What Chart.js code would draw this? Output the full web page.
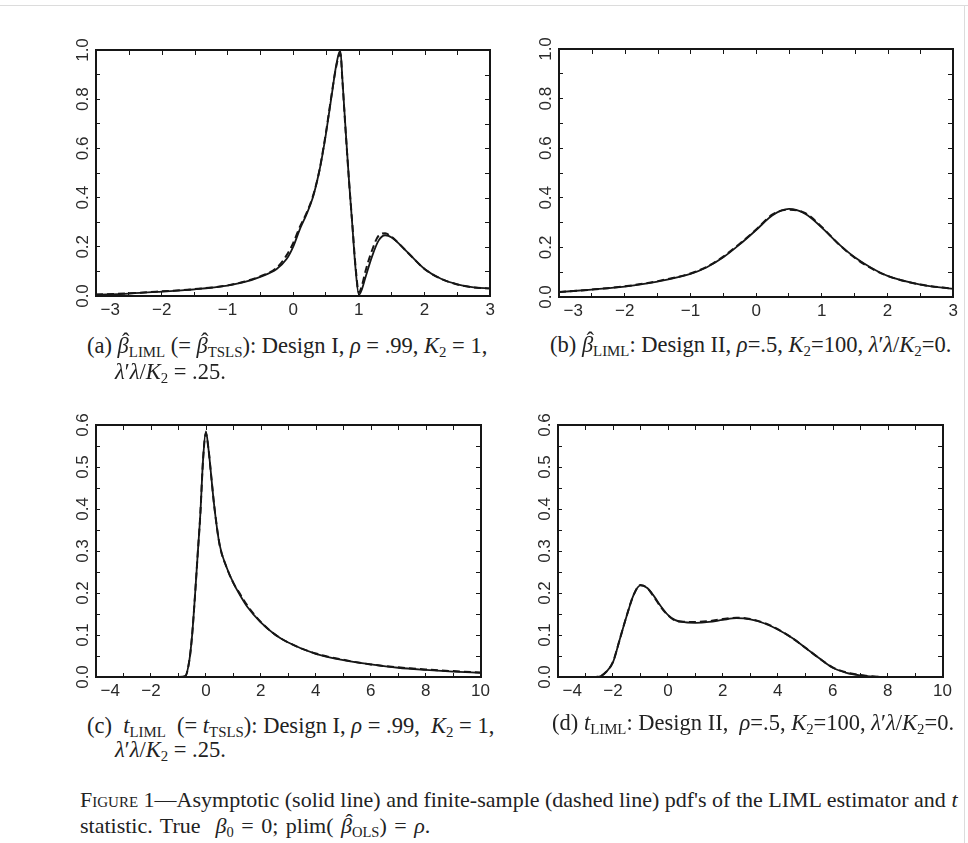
<!DOCTYPE html>
<html>
<head>
<meta charset="utf-8">
<script src="https://cdn.jsdelivr.net/npm/chart.js@4.4.1/dist/chart.umd.min.js"></script>
<style>
  body { margin: 0; background: #fff; }
  #page { position: relative; width: 968px; height: 843px; overflow: hidden; background: #fff;
          font-family: "Liberation Serif", "DejaVu Serif", serif; color: #222; }
  .edge { position: absolute; background: #dcdcdc; }
  .plot { position: absolute; }
  .cap { position: absolute; font-size: 22.5px; line-height: 1; white-space: nowrap; }
  .cap sub { font-size: 0.66em; vertical-align: -0.3em; line-height: 0; }
  .fig { font-size: 22px; }
  .smc { font-variant: small-caps; }
  .hat { position: relative; display: inline-block; }
  .hat b { position: absolute; left: 0.2em; top: -0.16em; font-weight: normal; font-style: normal; }
</style>
</head>
<body>
<div id="page">
  <div class="edge" style="left:0;top:5px;width:968px;height:1px"></div>
  <div class="edge" style="left:964px;top:5px;width:1px;height:838px"></div>

  <canvas id="panelA" class="plot"></canvas>
  <canvas id="panelB" class="plot"></canvas>
  <canvas id="panelC" class="plot"></canvas>
  <canvas id="panelD" class="plot"></canvas>

  <div class="cap" style="left:87px;top:335px">(a) <span class="hat"><i>β</i><b>ˆ</b></span><sub>LIML</sub> (= <span class="hat"><i>β</i><b>ˆ</b></span><sub>TSLS</sub>): Design I, <i>ρ</i> = .99, <i>K</i><sub>2</sub> = 1,</div>
  <div class="cap" style="left:115px;top:361px"><i>λ</i>′<i>λ</i>/<i>K</i><sub>2</sub> = .25.</div>
  <div class="cap" style="left:550px;top:334px">(b) <span class="hat"><i>β</i><b>ˆ</b></span><sub>LIML</sub>: Design II, <i>ρ</i>=.5, <i>K</i><sub>2</sub>=100, <i>λ</i>′<i>λ</i>/<i>K</i><sub>2</sub>=0.</div>
  <div class="cap" style="left:87px;top:715px">(c)&nbsp; <i>t</i><sub>LIML</sub>&nbsp; (= <i>t</i><sub>TSLS</sub>): Design I, <i>ρ</i> = .99,&nbsp; <i>K</i><sub>2</sub> = 1,</div>
  <div class="cap" style="left:115px;top:739px"><i>λ</i>′<i>λ</i>/<i>K</i><sub>2</sub> = .25.</div>
  <div class="cap" style="left:552px;top:712px">(d) <i>t</i><sub>LIML</sub>: Design II,&nbsp; <i>ρ</i>=.5, <i>K</i><sub>2</sub>=100, <i>λ</i>′<i>λ</i>/<i>K</i><sub>2</sub>=0.</div>
  <div class="cap fig" style="left:80px;top:789px"><span class="smc">Figure</span> 1—Asymptotic (solid line) and finite-sample (dashed line) pdf's of the LIML estimator and <i>t</i></div>
  <div class="cap fig" style="left:80px;top:815px;word-spacing:2px">statistic. True&nbsp; <i>β</i><sub>0</sub> = 0; plim( <span class="hat"><i>β</i><b>ˆ</b></span><sub>OLS</sub>) = <i>ρ</i>.</div>
</div>

<script>
// (a) beta LIML, design I
const aX      = [-3, -2.5, -2, -1.5, -1, -0.75, -0.5, -0.25, -0.1, 0, 0.1, 0.2, 0.3, 0.4, 0.45, 0.5, 0.55, 0.6, 0.65, 0.7, 0.72, 0.75, 0.8, 0.85, 0.9, 0.95, 1.0, 1.05, 1.1, 1.2, 1.3, 1.4, 1.5, 1.75, 2, 2.25, 2.5, 2.75, 3];
const aSolid  = [0.005, 0.010, 0.018, 0.027, 0.042, 0.056, 0.078, 0.11, 0.15, 0.20, 0.27, 0.33, 0.40, 0.51, 0.58, 0.66, 0.75, 0.84, 0.93, 0.99, 0.995, 0.88, 0.67, 0.47, 0.29, 0.11, 0.005, 0.03, 0.075, 0.16, 0.225, 0.247, 0.238, 0.175, 0.11, 0.07, 0.047, 0.035, 0.031];
const aDashed = [0.006, 0.011, 0.019, 0.028, 0.043, 0.058, 0.080, 0.115, 0.165, 0.215, 0.28, 0.335, 0.405, 0.51, 0.585, 0.665, 0.755, 0.845, 0.925, 0.98, 0.985, 0.875, 0.665, 0.47, 0.295, 0.12, 0.015, 0.045, 0.10, 0.185, 0.245, 0.255, 0.24, 0.175, 0.11, 0.07, 0.047, 0.035, 0.031];

// (b) beta LIML, design II
const bX      = [-3, -2.5, -2, -1.5, -1, -0.75, -0.5, -0.25, 0, 0.25, 0.5, 0.75, 1, 1.25, 1.5, 1.75, 2, 2.5, 3];
const bSolid  = [0.02, 0.03, 0.042, 0.062, 0.093, 0.12, 0.16, 0.212, 0.27, 0.33, 0.355, 0.335, 0.28, 0.215, 0.16, 0.118, 0.085, 0.05, 0.033];
const bDashed = [0.02, 0.03, 0.043, 0.064, 0.095, 0.122, 0.163, 0.215, 0.272, 0.333, 0.352, 0.338, 0.282, 0.215, 0.158, 0.116, 0.085, 0.05, 0.033];

// (c) t LIML, design I
const cX      = [-4, -1, -0.75, -0.6, -0.5, -0.4, -0.3, -0.2, -0.1, 0, 0.1, 0.2, 0.3, 0.5, 0.75, 1, 1.25, 1.5, 2, 2.5, 3, 4, 5, 6, 7, 8, 9, 10];
const cSolid  = [0, 0, 0.002, 0.04, 0.10, 0.19, 0.29, 0.39, 0.52, 0.585, 0.54, 0.475, 0.41, 0.315, 0.262, 0.224, 0.194, 0.168, 0.13, 0.102, 0.082, 0.055, 0.04, 0.03, 0.022, 0.017, 0.013, 0.01];
const cDashed = [0, 0, 0.002, 0.04, 0.10, 0.19, 0.29, 0.39, 0.52, 0.58, 0.54, 0.475, 0.41, 0.315, 0.262, 0.224, 0.197, 0.171, 0.131, 0.102, 0.082, 0.056, 0.041, 0.03, 0.023, 0.018, 0.014, 0.011];

// (d) t LIML, design II
const dX      = [-4, -2.75, -2.5, -2.25, -2, -1.75, -1.5, -1.25, -1, -0.75, -0.5, -0.25, 0, 0.25, 0.5, 1, 1.5, 2, 2.5, 3, 3.5, 4, 4.5, 5, 5.5, 6, 6.5, 7, 7.5, 8, 10];
const dSolid  = [0, 0, 0.001, 0.012, 0.035, 0.09, 0.145, 0.195, 0.218, 0.212, 0.192, 0.168, 0.148, 0.136, 0.131, 0.129, 0.131, 0.136, 0.14, 0.137, 0.128, 0.113, 0.094, 0.07, 0.045, 0.022, 0.01, 0.004, 0.001, 0, 0];
const dDashed = [0, 0, 0.001, 0.012, 0.036, 0.09, 0.146, 0.195, 0.219, 0.212, 0.19, 0.166, 0.147, 0.135, 0.132, 0.131, 0.133, 0.138, 0.141, 0.138, 0.129, 0.114, 0.094, 0.07, 0.045, 0.023, 0.011, 0.005, 0.001, 0, 0];

const ink = '#161616';
const tickFont = { family: "'Liberation Sans', Arial, sans-serif", size: 17 };

function pts(xs, ys) {
  return xs.map((x, i) => ({ x: x, y: ys[i] }));
}

function isMajor(v, step) {
  const r = v / step;
  return Math.abs(r - Math.round(r)) < 1e-6;
}

// the leftmost label sits a little inside the box, as in the original
function xLabel(v, min) {
  const s = String(Math.round(v));
  const txt = v < 0 ? '\u2212' + s.slice(1) : s;
  return v === min ? '      ' + txt : txt;
}

// frame round the plot area, with inward ticks on the top and right sides
const frameTicks = {
  id: 'frameTicks',
  afterDraw(chart) {
    const { ctx, chartArea: a, scales: { x, y } } = chart;
    const L = Math.round(a.left), T = Math.round(a.top), R = Math.round(a.right), B = Math.round(a.bottom);
    ctx.save();
    ctx.setLineDash([]);
    ctx.fillStyle = ink;
    x.ticks.forEach(t => {
      const px = Math.round(x.getPixelForValue(t.value));
      ctx.fillRect(px, T, 1, 5);
    });
    y.ticks.forEach(t => {
      const py = Math.round(y.getPixelForValue(t.value));
      ctx.fillRect(R - 5, py, 5, 1);
    });
    // the four sides, 2px wide
    ctx.fillRect(L - 1, T - 1, R - L + 2, 2);
    ctx.fillRect(L - 1, B - 1, R - L + 2, 2);
    ctx.fillRect(L - 1, T - 1, 2, B - T + 2);
    ctx.fillRect(R - 1, T - 1, 2, B - T + 2);
    ctx.restore();
  }
};

function makePanel(id, box, xr, yr, xs, solid, dashed) {
  const cv = document.getElementById(id);
  cv.width = box.right - box.left + 62;
  cv.height = box.bottom - box.top + 60;
  cv.style.left = (box.left - 50) + 'px';
  cv.style.top = (box.top - 25) + 'px';

  const grid = { drawOnChartArea: false, drawTicks: true, tickLength: -4, color: ink, lineWidth: 1 };

  new Chart(cv, {
    type: 'line',
    data: {
      datasets: [
        { data: pts(xs, solid), borderColor: ink, borderWidth: 1.8, pointRadius: 0,
          cubicInterpolationMode: 'monotone', fill: false, clip: 4 },
        { data: pts(xs, dashed), borderColor: ink, borderWidth: 2, borderDash: [7, 4], pointRadius: 0,
          cubicInterpolationMode: 'monotone', fill: false, clip: 4 }
      ]
    },
    options: {
      responsive: false,
      animation: false,
      events: [],
      layout: { padding: { top: 25, right: 12, left: 0, bottom: 0 } },
      plugins: { legend: { display: false }, tooltip: { enabled: false } },
      scales: {
        x: {
          type: 'linear', position: 'bottom', min: xr.min, max: xr.max,
          grid: grid, border: { display: false },
          ticks: { stepSize: xr.minor, autoSkip: false, maxRotation: 0, font: tickFont, color: '#2a2a2a', padding: 8,
                   callback: v => isMajor(v, xr.major) ? xLabel(v, xr.min) : '' },
          afterFit: s => { s.height = 35; }
        },
        y: {
          type: 'linear', position: 'left', min: yr.min, max: yr.max,
          grid: grid, border: { display: false },
          ticks: { stepSize: yr.minor, autoSkip: false, minRotation: 90, maxRotation: 90, crossAlign: 'center',
                   font: tickFont, color: '#2a2a2a', padding: 5,
                   callback: v => isMajor(v, yr.major) ? v.toFixed(1) : '' },
          afterFit: s => { s.width = 50; }
        }
      }
    },
    plugins: [frameTicks]
  });
}

makePanel('panelA', { left: 96, top: 50, right: 491, bottom: 296 },
  { min: -3, max: 3, minor: 0.5, major: 1 }, { min: 0, max: 1, minor: 0.1, major: 0.2 }, aX, aSolid, aDashed);
makePanel('panelB', { left: 559, top: 49, right: 954, bottom: 297 },
  { min: -3, max: 3, minor: 0.5, major: 1 }, { min: 0, max: 1, minor: 0.1, major: 0.2 }, bX, bSolid, bDashed);
makePanel('panelC', { left: 96, top: 425, right: 486, bottom: 677 },
  { min: -4, max: 10, minor: 1, major: 2 }, { min: 0, max: 0.6, minor: 0.05, major: 0.1 }, cX, cSolid, cDashed);
makePanel('panelD', { left: 558, top: 425, right: 948, bottom: 677 },
  { min: -4, max: 10, minor: 1, major: 2 }, { min: 0, max: 0.6, minor: 0.05, major: 0.1 }, dX, dSolid, dDashed);
</script>
</body>
</html>
